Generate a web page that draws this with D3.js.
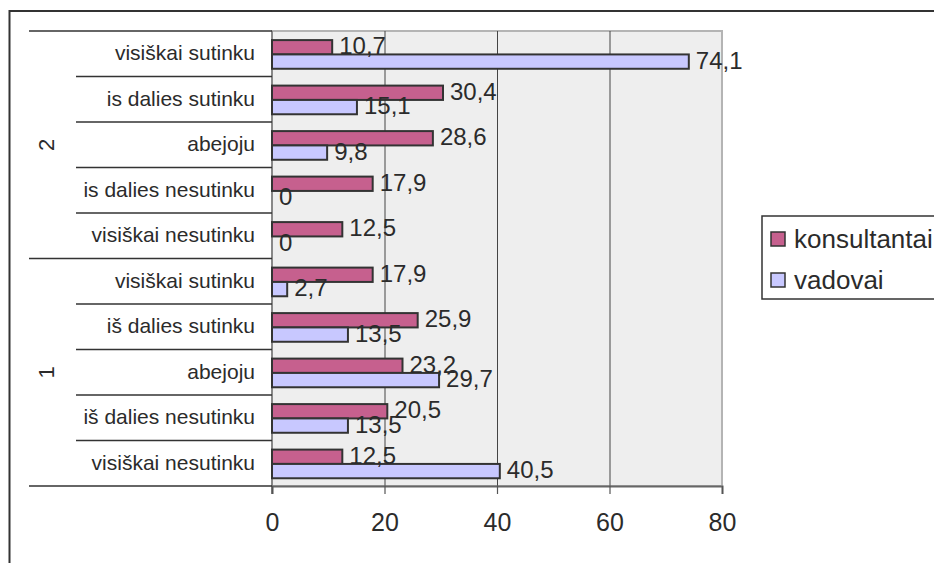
<!DOCTYPE html>
<html>
<head>
<meta charset="utf-8">
<script src="https://cdn.jsdelivr.net/npm/d3@7"></script>
<style>
  html, body { margin: 0; padding: 0; background: #fff; }
  svg { display: block; font-family: "Liberation Sans", Arial, sans-serif; }
</style>
</head>
<body>
<svg id="chart" width="934" height="563"></svg>
<script>
// Answer categories, top to bottom, with their group (2 on top, 1 below)
const groups = ["2", "1"];
const categories = [
  "visiškai sutinku", "is dalies sutinku", "abejoju", "is dalies nesutinku", "visiškai nesutinku",
  "visiškai sutinku", "iš dalies sutinku", "abejoju", "iš dalies nesutinku", "visiškai nesutinku"
];
const categoryGroup = ["2", "2", "2", "2", "2", "1", "1", "1", "1", "1"];

// Series values (%), same order as categories
const seriesNames = ["konsultantai", "vadovai"];
const konsultantai = [10.7, 30.4, 28.6, 17.9, 12.5, 17.9, 25.9, 23.2, 20.5, 12.5];
const vadovai = [74.1, 15.1, 9.8, 0, 0, 2.7, 13.5, 29.7, 13.5, 40.5];
const seriesColors = ["#c6608e", "#c8c8ff"];

// Value axis ticks
const xTicks = [0, 20, 40, 60, 80];

const seriesValues = [konsultantai, vadovai];
const rows = categories.map((c, i) => ({
  key: String(i),
  label: c,
  group: categoryGroup[i],
  values: seriesNames.map((s, j) => ({ series: s, value: seriesValues[j][i], color: seriesColors[j] }))
}));

const svg = d3.select("#chart");
const plot = { left: 272, right: 722, top: 31, bottom: 486 };
const ink = "#2b2b2b";

// outer frame
svg.append("rect")
  .attr("x", 9.5).attr("y", 11).attr("width", 960).attr("height", 600)
  .attr("fill", "none").attr("stroke", "#333").attr("stroke-width", 2);

const x = d3.scaleLinear().domain([0, 80]).range([plot.left, plot.right]);
const y0 = d3.scaleBand().domain(rows.map(r => r.key)).range([plot.top, plot.bottom]).padding(0);
const y1 = d3.scaleBand().domain(seriesNames)
  .range([y0.bandwidth() * 0.2, y0.bandwidth() * 0.83]).padding(0);

// plot background
svg.append("rect")
  .attr("x", plot.left).attr("y", plot.top)
  .attr("width", plot.right - plot.left).attr("height", plot.bottom - plot.top)
  .attr("fill", "#eeeeee").attr("stroke", "#b4b4b4").attr("stroke-width", 2);

// vertical gridlines
svg.append("g")
  .attr("transform", `translate(0,${plot.bottom})`)
  .call(d3.axisBottom(x).tickValues(xTicks.slice(1, -1)).tickSize(-(plot.bottom - plot.top)).tickFormat(""))
  .call(g => g.select(".domain").remove())
  .call(g => g.selectAll(".tick line").attr("stroke", "#444").attr("stroke-width", 1));

// category axis line
svg.append("line")
  .attr("x1", plot.left).attr("x2", plot.left)
  .attr("y1", plot.top).attr("y2", plot.bottom + 8)
  .attr("stroke", "#888").attr("stroke-width", 2);

// bars
const rowG = svg.append("g").selectAll("g").data(rows).join("g")
  .attr("transform", d => `translate(0,${y0(d.key)})`);

rowG.selectAll("rect").data(d => d.values).join("rect")
  .attr("x", x(0))
  .attr("y", d => y1(d.series))
  .attr("width", d => x(d.value) - x(0))
  .attr("height", y1.bandwidth())
  .attr("fill", d => d.color)
  .attr("stroke", "#333").attr("stroke-width", 2);

// data labels
rowG.selectAll("text").data(d => d.values).join("text")
  .attr("x", d => x(d.value) + 7)
  .attr("y", d => y1(d.series) + y1.bandwidth() / 2)
  .attr("dy", "0.3em")
  .attr("font-size", 24)
  .attr("fill", ink)
  .text(d => String(d.value).replace(".", ","));

// value axis
svg.append("g")
  .attr("transform", `translate(0,${plot.bottom})`)
  .call(d3.axisBottom(x).tickValues(xTicks).tickSize(8).tickPadding(19).tickFormat(d3.format("d")))
  .call(g => g.select(".domain").attr("stroke", "#666").attr("stroke-width", 2))
  .call(g => g.selectAll(".tick line").attr("stroke", "#555").attr("stroke-width", 1.2))
  .call(g => g.selectAll(".tick text").attr("font-size", 25).attr("fill", ink)
    .attr("font-family", "'Liberation Sans', Arial, sans-serif"));

// category separators: long lines at group boundaries, short lines between categories
const boundaries = d3.range(rows.length + 1).map(i => plot.top + i * y0.step());
svg.append("g").selectAll("line").data(boundaries).join("line")
  .attr("x1", (d, i) => (i % 5 === 0 ? 29 : 76))
  .attr("x2", plot.left)
  .attr("y1", d => d).attr("y2", d => d)
  .attr("stroke", "#333").attr("stroke-width", 1.4);

// category labels
svg.append("g").selectAll("text").data(rows).join("text")
  .attr("x", 255)
  .attr("y", d => y0(d.key) + y0.bandwidth() / 2)
  .attr("dy", "0.3em")
  .attr("text-anchor", "end")
  .attr("font-size", 21)
  .attr("fill", ink)
  .text(d => d.label);

// group labels
svg.append("g").selectAll("text").data(groups).join("text")
  .attr("transform", g => {
    const keys = rows.filter(r => r.group === g).map(r => r.key);
    const cy = (y0(keys[0]) + y0(keys[keys.length - 1]) + y0.bandwidth()) / 2;
    return `translate(46,${cy}) rotate(-90)`;
  })
  .attr("text-anchor", "middle")
  .attr("dy", "0.35em")
  .attr("font-size", 22)
  .attr("fill", ink)
  .text(g => g);

// legend
const legend = svg.append("g").attr("transform", "translate(762,216)");
legend.append("rect")
  .attr("width", 220).attr("height", 83)
  .attr("fill", "#fff").attr("stroke", "#333").attr("stroke-width", 1.5);
const item = legend.selectAll("g").data(seriesNames).join("g")
  .attr("transform", (d, i) => `translate(9,${16 + i * 41})`);
item.append("rect")
  .attr("width", 14).attr("height", 14)
  .attr("fill", (d, i) => seriesColors[i])
  .attr("stroke", "#333").attr("stroke-width", 1.5);
item.append("text")
  .attr("x", 23).attr("y", 7).attr("dy", "0.35em")
  .attr("font-size", 26)
  .attr("fill", ink)
  .text(d => d);
</script>
</body>
</html>
